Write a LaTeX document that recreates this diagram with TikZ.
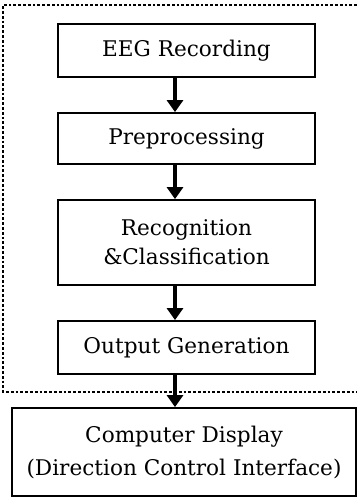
\documentclass[tikz,border=0pt]{standalone}
\usepackage{fontspec}
\setmainfont{DejaVu Serif}
\usetikzlibrary{arrows.meta}
\tikzset{
  caja/.style={draw, line width=0.9pt, minimum width=128.5pt, align=center,
    font=\fontsize{10.8}{14.5}\selectfont},
  flecha/.style={line width=2pt, -{Triangle[width=8pt,length=6pt]}},
  marco/.style={line width=1.4pt, densely dotted}
}
\begin{document}
\begin{tikzpicture}[x=0.5pt,y=-0.5pt]
        \useasboundingbox (0,0) rectangle (357,497);
        % Marco punteado
        \draw[marco] (357,5) -- (3,5) -- (3,392) -- (357,392);
        % Cajas
        \node[caja, minimum height=26.5pt] (eeg) at (186.5,50.5) {EEG Recording};
        \node[caja, minimum height=25.5pt] (pre) at (186.5,138.5) {Preprocessing};
        \node[caja, minimum height=42.5pt] (rec) at (186.5,242.5) {Recognition\\\&Classification};
        \node[caja, minimum width=172pt, minimum height=44pt] (comp) at (184,452)
          {Computer Display\\[2pt](Direction Control Interface)};
        \node[caja, minimum height=26.5pt] (out) at (186.5,347.5) {Output Generation};
        % Flechas
        \coordinate (eje) at (175,0);
        \draw[flecha] (eeg.south -| eje) -- (pre.north -| eje);
        \draw[flecha] (pre.south -| eje) -- (rec.north -| eje);
        \draw[flecha] (rec.south -| eje) -- (out.north -| eje);
        \draw[flecha] (out.south -| eje) -- (comp.north -| eje);
    \end{tikzpicture}
\end{document}
